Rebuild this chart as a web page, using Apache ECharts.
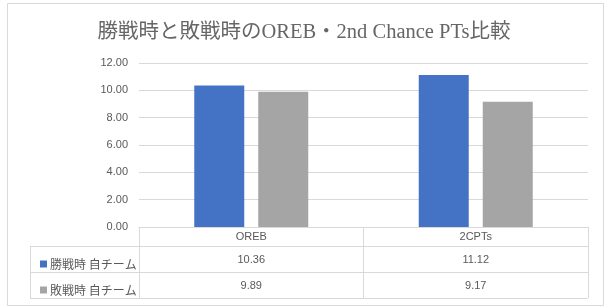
<!DOCTYPE html>
<html><head><meta charset="utf-8">
<script src="https://cdn.jsdelivr.net/npm/echarts@6/dist/echarts.min.js"></script>
<style>html,body{margin:0;padding:0;background:#fff}#c{width:608px;height:308px}</style>
</head><body><div id="c"></div>
<script>
const titleText = '勝戦時と敗戦時のOREB・2nd Chance PTs比較';
const categories = ['OREB', '2CPTs'];
const seriesNames = ['勝戦時 自チーム', '敗戦時 自チーム'];
const winValues = [10.36, 11.12];
const loseValues = [9.89, 9.17];
const yMin = 0, yMax = 12, yInterval = 2;
const colors = ['#4472C4', '#A5A5A5'];

const GL = 139, GR = 588, GT = 63, GB = 227;
const tableLeft = 30, rowLines = [246, 272, 298];
const textColor = '#595959', lineColor = '#d9d9d9';
const numFont = 'Liberation Sans, Noto Sans CJK JP, sans-serif';

const chart = echarts.init(document.getElementById('c'), null, {renderer: 'canvas'});
const option = {
  animation: false,
  title: {
    text: titleText, left: 'center', top: 17,
    textStyle: {fontFamily: 'Liberation Serif, Noto Sans CJK JP, serif', fontSize: 20.5, fontWeight: 'normal', color: '#666666'}
  },
  legend: {
    orient: 'vertical', left: 35, top: 252, itemWidth: 7, itemHeight: 7, itemGap: 12,
    icon: 'rect', selectedMode: false,
    textStyle: {fontFamily: 'Noto Sans CJK JP, sans-serif', fontSize: 12, color: textColor, lineHeight: 14, padding: [0, 0, 0, -2]}
  },
  grid: {left: GL, right: 608 - GR, top: GT, bottom: 308 - GB, containLabel: false},
  xAxis: {
    type: 'category', data: categories,
    axisLine: {lineStyle: {color: lineColor}},
    axisTick: {show: true, interval: 0, length: rowLines[2] - GB, lineStyle: {color: lineColor}},
    axisLabel: {margin: 4, fontFamily: numFont, fontSize: 11, color: textColor}
  },
  yAxis: {
    type: 'value', min: yMin, max: yMax, interval: yInterval,
    axisLine: {show: false}, axisTick: {show: false},
    splitLine: {lineStyle: {color: lineColor}},
    axisLabel: {margin: 11, fontFamily: numFont, fontSize: 11, color: textColor, formatter: v => v.toFixed(2)}
  },
  series: [
    {name: seriesNames[0], type: 'bar', data: winValues, barWidth: 50, barGap: '28%', itemStyle: {color: colors[0]}},
    {name: seriesNames[1], type: 'bar', data: loseValues, barWidth: 50, barGap: '28%', itemStyle: {color: colors[1]}}
  ]
};
chart.setOption(option);

const graphics = [];
graphics.push({type: 'rect', shape: {x: 7.5, y: 3.5, width: 596, height: 302}, style: {fill: 'none', stroke: lineColor, lineWidth: 1}, z: -1});
rowLines.forEach(y => {
  graphics.push({type: 'line', shape: {x1: tableLeft, y1: y + 0.5, x2: GR, y2: y + 0.5}, style: {stroke: lineColor, lineWidth: 1}});
});
graphics.push({type: 'line', shape: {x1: tableLeft + 0.5, y1: rowLines[0], x2: tableLeft + 0.5, y2: rowLines[2]}, style: {stroke: lineColor, lineWidth: 1}});
const rowData = [winValues, loseValues];
rowData.forEach((vals, r) => {
  const yc = (rowLines[r] + rowLines[r + 1]) / 2 + 0.5;
  vals.forEach((v, i) => {
    const xc = chart.convertToPixel({xAxisIndex: 0}, categories[i]);
    graphics.push({type: 'text', x: xc, y: yc, style: {text: v.toFixed(2), fill: textColor, font: '11px ' + numFont, textAlign: 'center', textVerticalAlign: 'middle'}});
  });
});
chart.setOption({graphic: graphics});
</script></body></html>
